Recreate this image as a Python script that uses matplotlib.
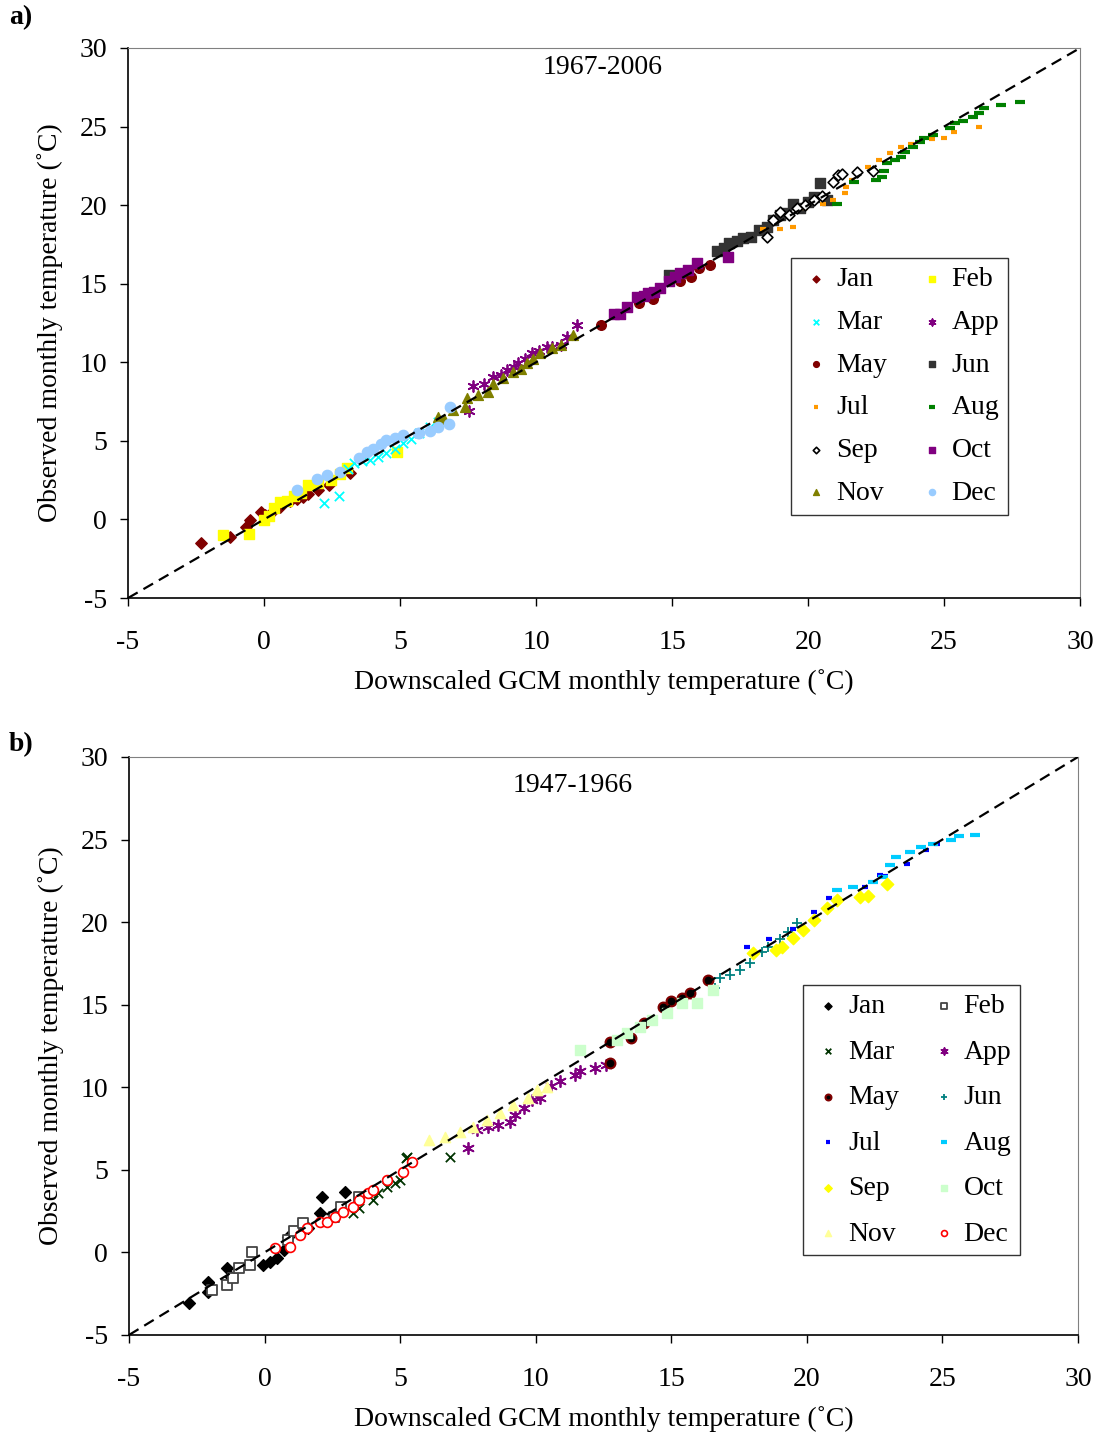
import matplotlib
matplotlib.use("Agg")
import matplotlib.pyplot as plt

plt.rcParams["font.family"] = ["Liberation Serif", "DejaVu Serif"]
plt.rcParams["axes.unicode_minus"] = False

MONTHS = ["Jan", "Feb", "Mar", "App", "May", "Jun",
          "Jul", "Aug", "Sep", "Oct", "Nov", "Dec"]

# ---- panel a) 1967-2006 : downscaled (x) vs observed (y) ----
jan_a_x = [-2.3, -1.25, -0.65, -0.5, -0.1, 0.05, 0.3, 0.6, 0.95, 1.2, 1.45, 1.6, 2.0, 2.4, 3.15]
jan_a_y = [-1.5, -1.1, -0.5, -0.05, 0.45, 0.3, 0.5, 0.8, 1.2, 1.3, 1.4, 1.6, 1.9, 2.2, 2.95]
feb_a_x = [-1.5, -0.55, 0.0, 0.2, 0.35, 0.6, 0.85, 1.1, 1.35, 1.6, 2.0, 2.45, 2.8, 3.05, 4.9]
feb_a_y = [-1.0, -0.9, -0.05, 0.2, 0.7, 1.1, 1.2, 1.5, 1.7, 2.2, 2.3, 2.5, 2.9, 3.3, 4.3]
mar_a_x = [2.2, 2.75, 3.1, 3.3, 3.6, 3.9, 4.2, 4.5, 4.8, 5.1, 5.4, 5.7, 6.1, 6.4]
mar_a_y = [1.05, 1.5, 3.2, 3.6, 3.7, 3.8, 4.0, 4.2, 4.5, 4.85, 5.1, 5.5, 5.9, 6.2]
app_a_x = [7.55, 7.7, 8.1, 8.4, 8.7, 8.95, 9.2, 9.35, 9.6, 9.85, 10.1, 10.4, 10.6, 10.9, 11.15, 11.5]
app_a_y = [6.9, 8.5, 8.6, 9.05, 9.2, 9.5, 9.7, 9.95, 10.2, 10.6, 10.7, 10.95, 11.0, 11.1, 11.6, 12.4]
may_a_x = [12.4, 13.8, 14.3, 15.3, 15.7, 16.0, 16.4]
may_a_y = [12.35, 13.75, 14.0, 15.2, 15.4, 16.0, 16.2]
jun_a_x = [14.9, 16.65, 16.9, 17.1, 17.4, 17.6, 17.9, 18.2, 18.5, 18.7, 18.95, 19.2, 19.45, 19.7, 20.0, 20.2, 20.45, 20.7]
jun_a_y = [15.55, 17.1, 17.3, 17.6, 17.7, 17.9, 18.0, 18.4, 18.6, 19.05, 19.4, 19.5, 20.1, 19.8, 20.2, 20.5, 21.4, 20.3]
jul_a_x = [18.35, 18.95, 19.45, 19.9, 20.55, 20.9, 21.35, 21.4, 21.6, 22.2, 22.6, 23.0, 23.4, 23.8, 24.55, 25.0, 25.35, 26.3]
jul_a_y = [18.5, 18.5, 18.6, 19.8, 20.1, 20.3, 20.8, 21.15, 21.6, 22.4, 22.85, 23.3, 23.7, 23.9, 24.2, 24.3, 24.65, 25.0]
aug_a_x = [21.05, 21.7, 22.5, 22.7, 22.8, 22.9, 23.2, 23.4, 23.55, 23.85, 24.1, 24.25, 24.6, 25.2, 25.4, 25.7, 26.05, 26.3, 26.45, 27.1, 27.8]
aug_a_y = [20.05, 21.5, 21.6, 21.8, 22.15, 22.65, 22.85, 23.05, 23.4, 23.7, 24.0, 24.3, 24.45, 24.9, 25.2, 25.35, 25.6, 25.85, 26.2, 26.4, 26.55]
sep_a_x = [18.5, 18.7, 18.95, 19.3, 19.6, 19.9, 20.2, 20.5, 20.9, 21.1, 21.25, 21.8, 22.4]
sep_a_y = [17.95, 19.05, 19.55, 19.4, 19.8, 20.0, 20.3, 20.6, 21.45, 21.9, 22.0, 22.1, 22.2]
oct_a_x = [12.85, 13.1, 13.35, 13.7, 13.95, 14.1, 14.35, 14.55, 14.9, 15.1, 15.3, 15.6, 15.9, 17.05]
oct_a_y = [13.1, 13.1, 13.5, 14.15, 14.2, 14.4, 14.5, 14.7, 15.2, 15.4, 15.7, 15.9, 16.3, 16.7]
nov_a_x = [6.4, 6.6, 6.95, 7.4, 7.45, 7.85, 8.25, 8.4, 8.8, 9.15, 9.45, 9.65, 9.9, 10.15, 10.6, 10.9, 11.35]
nov_a_y = [6.5, 6.4, 6.95, 7.15, 7.7, 7.9, 8.1, 8.65, 9.0, 9.4, 9.6, 9.95, 10.2, 10.6, 10.9, 11.1, 11.75]
dec_a_x = [1.2, 1.95, 2.3, 2.8, 3.5, 3.8, 4.0, 4.3, 4.5, 4.8, 5.1, 5.65, 5.7, 6.1, 6.4, 6.8, 6.85]
dec_a_y = [1.85, 2.6, 2.8, 3.0, 3.9, 4.3, 4.5, 4.8, 5.05, 5.2, 5.4, 5.5, 5.5, 5.6, 5.9, 6.1, 7.15]

# ---- panel b) 1947-1966 ----
jan_b_x = [-2.8, -2.1, -2.1, -1.4, -1.25, -0.05, 0.2, 0.45, 0.7, 0.85, 1.3, 1.6, 2.05, 2.1, 2.95]
jan_b_y = [-3.05, -2.4, -1.8, -0.95, -1.5, -0.75, -0.6, -0.35, 0.15, 0.95, 1.15, 1.5, 2.4, 3.35, 3.65]
feb_b_x = [-1.95, -1.4, -1.15, -0.95, -0.55, -0.45, 0.85, 1.1, 1.4, 2.55, 2.8, 3.5]
feb_b_y = [-2.3, -2.0, -1.55, -0.95, -0.75, 0.0, 0.75, 1.3, 1.75, 2.15, 2.75, 3.35]
mar_b_x = [2.15, 3.25, 3.5, 4.0, 4.2, 4.5, 4.8, 5.0, 5.2, 5.25, 6.85]
mar_b_y = [1.85, 2.4, 2.7, 3.15, 3.6, 3.95, 4.2, 4.4, 5.7, 5.75, 5.75]
app_b_x = [7.5, 7.85, 8.25, 8.6, 9.05, 9.25, 9.55, 9.85, 10.15, 10.55, 10.9, 11.45, 11.65, 12.2, 12.6]
app_b_y = [6.3, 7.4, 7.6, 7.7, 7.9, 8.3, 8.75, 9.2, 9.35, 10.1, 10.4, 10.75, 11.0, 11.15, 11.35]
may_b_x = [12.75, 12.75, 13.5, 14.0, 14.7, 15.0, 15.4, 15.7, 16.35]
may_b_y = [11.45, 12.75, 13.0, 13.9, 14.85, 15.2, 15.4, 15.7, 16.5]
jun_b_x = [16.6, 16.8, 17.15, 17.55, 17.9, 18.35, 18.55, 19.0, 19.3, 19.65]
jun_b_y = [16.0, 16.6, 16.8, 17.1, 17.5, 18.2, 18.5, 19.0, 19.4, 19.95]
jul_b_x = [17.8, 18.6, 19.5, 20.25, 20.8, 22.15, 22.7, 22.9, 23.7, 24.4, 24.8]
jul_b_y = [18.5, 19.0, 19.6, 20.6, 21.45, 22.1, 22.85, 22.8, 23.5, 24.35, 24.7]
aug_b_x = [21.1, 21.7, 22.45, 22.8, 23.05, 23.3, 23.8, 24.2, 24.65, 25.3, 25.6, 26.2]
aug_b_y = [21.95, 22.1, 22.45, 22.75, 23.45, 23.95, 24.25, 24.55, 24.75, 24.95, 25.2, 25.3]
sep_b_x = [18.0, 18.85, 19.1, 19.5, 19.85, 20.25, 20.75, 21.1, 21.95, 22.25, 22.95]
sep_b_y = [18.1, 18.3, 18.5, 19.05, 19.5, 20.1, 20.85, 21.35, 21.5, 21.6, 22.3]
oct_b_x = [11.65, 13.0, 13.35, 13.85, 14.3, 14.85, 15.4, 15.95, 16.55]
oct_b_y = [12.25, 12.85, 13.3, 13.65, 14.05, 14.5, 15.1, 15.1, 15.9]
nov_b_x = [6.05, 6.65, 7.2, 7.7, 8.2, 8.7, 9.15, 9.7, 10.05, 10.4]
nov_b_y = [6.8, 7.0, 7.3, 7.6, 8.0, 8.45, 8.9, 9.35, 9.85, 10.0]
dec_b_x = [0.4, 0.95, 1.3, 1.55, 2.05, 2.3, 2.6, 2.9, 3.25, 3.5, 3.8, 4.0, 4.5, 5.1, 5.45]
dec_b_y = [0.25, 0.3, 1.05, 1.45, 1.85, 1.85, 2.15, 2.45, 2.75, 3.15, 3.6, 3.75, 4.4, 4.85, 5.45]

TICKS = [-5, 0, 5, 10, 15, 20, 25, 30]
STAR = (6, 2, 0)
FS = 20

# marker, size, facecolor, edgecolor, linewidth
STYLE_A = {
    "Jan": ("D", 34, "#800000", "#800000", 1.0),
    "Feb": ("s", 48, "#FFFF00", "#FFFF00", 1.0),
    "Mar": ("x", 45, "#00FFFF", "#00FFFF", 1.3),
    "App": (STAR, 60, "#800080", "#800080", 1.3),
    "May": ("o", 48, "#800000", "#800000", 1.0),
    "Jun": ("s", 48, "#333333", "#333333", 1.0),
    "Jul": ("_", 22, "#FF9900", "#FF9900", 3.0),
    "Aug": ("_", 60, "#008000", "#008000", 3.0),
    "Sep": ("D", 30, "white", "black", 1.2),
    "Oct": ("s", 48, "#800080", "#800080", 1.0),
    "Nov": ("^", 50, "#808000", "#808000", 1.0),
    "Dec": ("o", 55, "#99CCFF", "#99CCFF", 1.0),
}
STYLE_B = {
    "Jan": ("D", 36, "black", "black", 1.0),
    "Feb": ("s", 50, "white", "#444444", 1.3),
    "Mar": ("x", 45, "#003300", "#003300", 1.3),
    "App": (STAR, 65, "#800080", "#800080", 1.3),
    "May": ("o", 50, "black", "#800000", 1.5),
    "Jun": ("+", 50, "#008080", "#008080", 1.3),
    "Jul": ("_", 22, "#0000FF", "#0000FF", 3.0),
    "Aug": ("_", 60, "#00CCFF", "#00CCFF", 3.0),
    "Sep": ("D", 40, "#FFFF00", "#FFFF00", 1.0),
    "Oct": ("s", 55, "#CCFFCC", "#CCFFCC", 1.0),
    "Nov": ("^", 55, "#FFFF99", "#FFFF99", 1.0),
    "Dec": ("o", 50, "white", "red", 1.2),
}


def draw_panel(ax, data, style, period, period_pos, legend_anchor, row_gap):
    handles = {}
    for month in MONTHS:
        xs, ys = data[month]
        mk, s, fc, ec, lw = style[month]
        if mk in ("x", "+", "_") or mk == STAR:
            h = ax.scatter(xs, ys, marker=mk, s=s, c=ec, linewidths=lw,
                           label=month, zorder=3)
        else:
            h = ax.scatter(xs, ys, marker=mk, s=s, facecolors=fc,
                           edgecolors=ec, linewidths=lw, label=month, zorder=3)
        handles[month] = h

    ax.plot([-5, 30], [-5, 30], color="black", linestyle=(0, (5, 3)),
            linewidth=1.6, zorder=4)

    ax.set_xlim(-5, 30)
    ax.set_ylim(-5, 30)
    ax.set_xticks(TICKS)
    ax.set_yticks(TICKS)
    ax.tick_params(direction="out", length=6, width=1, labelsize=FS)
    ax.tick_params(axis="x", pad=17)
    ax.tick_params(axis="y", pad=9)
    for side in ("top", "right"):
        ax.spines[side].set_color("#808080")
    for side in ("left", "bottom"):
        ax.spines[side].set_linewidth(1.2)
    ax.set_xlabel("Downscaled GCM monthly temperature (\u02daC)", fontsize=FS,
                  labelpad=10)
    ax.set_ylabel("Observed monthly temperature (\u02daC)", fontsize=FS,
                  labelpad=12)
    ax.text(period_pos[0], period_pos[1], period, transform=ax.transAxes,
            ha="center", va="center", fontsize=FS)

    order = ["Jan", "Mar", "May", "Jul", "Sep", "Nov",
             "Feb", "App", "Jun", "Aug", "Oct", "Dec"]
    leg = ax.legend([handles[m] for m in order], order, ncol=2,
                    loc="upper left", bbox_to_anchor=legend_anchor,
                    borderaxespad=0, fontsize=FS, markerscale=0.6,
                    frameon=True, fancybox=False, edgecolor="black",
                    handletextpad=0.12, columnspacing=1.0,
                    labelspacing=row_gap, borderpad=0.32, handlelength=1.2,
                    scatterpoints=1)
    leg.get_frame().set_linewidth(1.0)
    leg.set_zorder(5)


def main():
    data_a = {
        "Jan": (jan_a_x, jan_a_y), "Feb": (feb_a_x, feb_a_y),
        "Mar": (mar_a_x, mar_a_y), "App": (app_a_x, app_a_y),
        "May": (may_a_x, may_a_y), "Jun": (jun_a_x, jun_a_y),
        "Jul": (jul_a_x, jul_a_y), "Aug": (aug_a_x, aug_a_y),
        "Sep": (sep_a_x, sep_a_y), "Oct": (oct_a_x, oct_a_y),
        "Nov": (nov_a_x, nov_a_y), "Dec": (dec_a_x, dec_a_y),
    }
    data_b = {
        "Jan": (jan_b_x, jan_b_y), "Feb": (feb_b_x, feb_b_y),
        "Mar": (mar_b_x, mar_b_y), "App": (app_b_x, app_b_y),
        "May": (may_b_x, may_b_y), "Jun": (jun_b_x, jun_b_y),
        "Jul": (jul_b_x, jul_b_y), "Aug": (aug_b_x, aug_b_y),
        "Sep": (sep_b_x, sep_b_y), "Oct": (oct_b_x, oct_b_y),
        "Nov": (nov_b_x, nov_b_y), "Dec": (dec_b_x, dec_b_y),
    }

    fig = plt.figure(figsize=(11, 14.41), dpi=100)
    ax_a = fig.add_axes([0.1164, 0.585, 0.8655, 0.3817])
    ax_b = fig.add_axes([0.1173, 0.0736, 0.8627, 0.4011])

    draw_panel(ax_a, data_a, STYLE_A, "1967-2006", (0.498, 0.965),
               (0.696, 0.618), 0.62)
    draw_panel(ax_b, data_b, STYLE_B, "1947-1966", (0.468, 0.95),
               (0.710, 0.6055), 0.72)

    fig.text(0.008, 0.9875, "a)", fontsize=FS, fontweight="bold", va="center")
    fig.text(0.008, 0.483, "b)", fontsize=FS, fontweight="bold", va="center")

    fig.savefig("out.png", dpi=100)


if __name__ == "__main__":
    main()
